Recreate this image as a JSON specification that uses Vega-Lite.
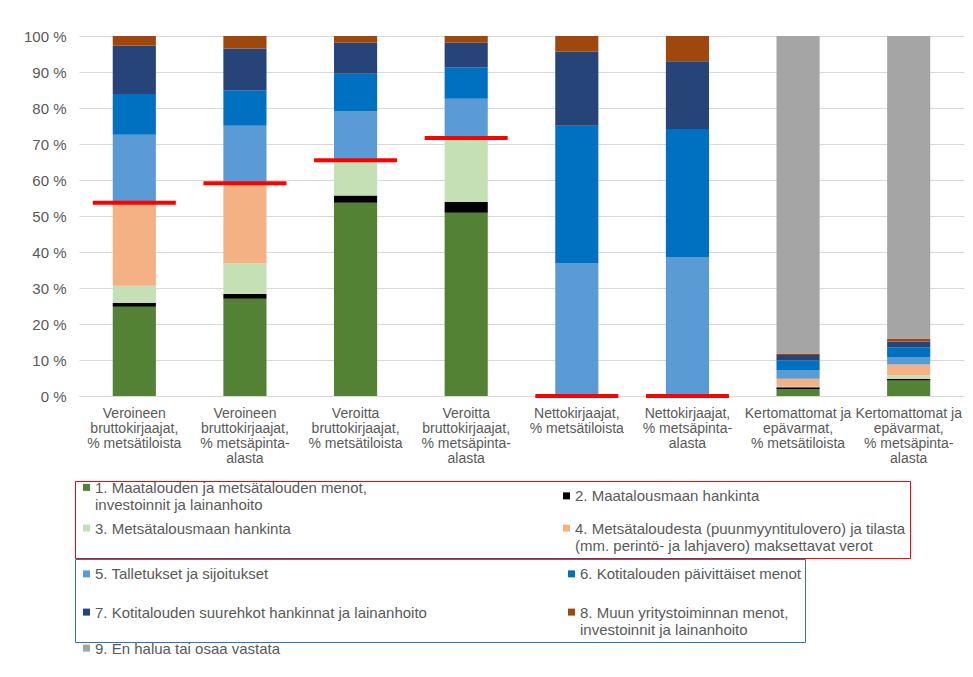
{
  "$schema": "https://vega.github.io/schema/vega-lite/v6.json",
  "width": 885,
  "height": 360,
  "autosize": {"type": "none"},
  "padding": {"left": 79, "top": 36, "right": 9, "bottom": 281},
  "background": "#ffffff",
  "config": {
    "font": "Liberation Sans",
    "view": {"stroke": null}
  },
  "datasets": {
    "bars": [
      {"cat": "Veroineen|bruttokirjaajat,|% metsätiloista", "n": 1, "series": "1. Maatalouden ja metsätalouden menot,|investoinnit ja lainanhoito", "v": 24.8},
      {"cat": "Veroineen|bruttokirjaajat,|% metsätiloista", "n": 2, "series": "2. Maatalousmaan hankinta", "v": 1.0},
      {"cat": "Veroineen|bruttokirjaajat,|% metsätiloista", "n": 3, "series": "3. Metsätalousmaan hankinta", "v": 4.8},
      {"cat": "Veroineen|bruttokirjaajat,|% metsätiloista", "n": 4, "series": "4. Metsätaloudesta (puunmyyntitulovero) ja tilasta|(mm. perintö- ja lahjavero) maksettavat verot", "v": 23.2},
      {"cat": "Veroineen|bruttokirjaajat,|% metsätiloista", "n": 5, "series": "5. Talletukset ja sijoitukset", "v": 18.8},
      {"cat": "Veroineen|bruttokirjaajat,|% metsätiloista", "n": 6, "series": "6. Kotitalouden päivittäiset menot", "v": 11.3},
      {"cat": "Veroineen|bruttokirjaajat,|% metsätiloista", "n": 7, "series": "7. Kotitalouden suurehkot hankinnat ja lainanhoito", "v": 13.4},
      {"cat": "Veroineen|bruttokirjaajat,|% metsätiloista", "n": 8, "series": "8. Muun yritystoiminnan menot,|investoinnit ja lainanhoito", "v": 2.7},

      {"cat": "Veroineen|bruttokirjaajat,|% metsäpinta-|alasta", "n": 1, "series": "1. Maatalouden ja metsätalouden menot,|investoinnit ja lainanhoito", "v": 27.0},
      {"cat": "Veroineen|bruttokirjaajat,|% metsäpinta-|alasta", "n": 2, "series": "2. Maatalousmaan hankinta", "v": 1.3},
      {"cat": "Veroineen|bruttokirjaajat,|% metsäpinta-|alasta", "n": 3, "series": "3. Metsätalousmaan hankinta", "v": 8.6},
      {"cat": "Veroineen|bruttokirjaajat,|% metsäpinta-|alasta", "n": 4, "series": "4. Metsätaloudesta (puunmyyntitulovero) ja tilasta|(mm. perintö- ja lahjavero) maksettavat verot", "v": 22.4},
      {"cat": "Veroineen|bruttokirjaajat,|% metsäpinta-|alasta", "n": 5, "series": "5. Talletukset ja sijoitukset", "v": 15.8},
      {"cat": "Veroineen|bruttokirjaajat,|% metsäpinta-|alasta", "n": 6, "series": "6. Kotitalouden päivittäiset menot", "v": 9.8},
      {"cat": "Veroineen|bruttokirjaajat,|% metsäpinta-|alasta", "n": 7, "series": "7. Kotitalouden suurehkot hankinnat ja lainanhoito", "v": 11.6},
      {"cat": "Veroineen|bruttokirjaajat,|% metsäpinta-|alasta", "n": 8, "series": "8. Muun yritystoiminnan menot,|investoinnit ja lainanhoito", "v": 3.5},

      {"cat": "Veroitta|bruttokirjaajat,|% metsätiloista", "n": 1, "series": "1. Maatalouden ja metsätalouden menot,|investoinnit ja lainanhoito", "v": 53.7},
      {"cat": "Veroitta|bruttokirjaajat,|% metsätiloista", "n": 2, "series": "2. Maatalousmaan hankinta", "v": 2.0},
      {"cat": "Veroitta|bruttokirjaajat,|% metsätiloista", "n": 3, "series": "3. Metsätalousmaan hankinta", "v": 9.9},
      {"cat": "Veroitta|bruttokirjaajat,|% metsätiloista", "n": 5, "series": "5. Talletukset ja sijoitukset", "v": 13.4},
      {"cat": "Veroitta|bruttokirjaajat,|% metsätiloista", "n": 6, "series": "6. Kotitalouden päivittäiset menot", "v": 10.5},
      {"cat": "Veroitta|bruttokirjaajat,|% metsätiloista", "n": 7, "series": "7. Kotitalouden suurehkot hankinnat ja lainanhoito", "v": 8.6},
      {"cat": "Veroitta|bruttokirjaajat,|% metsätiloista", "n": 8, "series": "8. Muun yritystoiminnan menot,|investoinnit ja lainanhoito", "v": 1.9},

      {"cat": "Veroitta|bruttokirjaajat,|% metsäpinta-|alasta", "n": 1, "series": "1. Maatalouden ja metsätalouden menot,|investoinnit ja lainanhoito", "v": 50.9},
      {"cat": "Veroitta|bruttokirjaajat,|% metsäpinta-|alasta", "n": 2, "series": "2. Maatalousmaan hankinta", "v": 3.0},
      {"cat": "Veroitta|bruttokirjaajat,|% metsäpinta-|alasta", "n": 3, "series": "3. Metsätalousmaan hankinta", "v": 17.7},
      {"cat": "Veroitta|bruttokirjaajat,|% metsäpinta-|alasta", "n": 5, "series": "5. Talletukset ja sijoitukset", "v": 11.0},
      {"cat": "Veroitta|bruttokirjaajat,|% metsäpinta-|alasta", "n": 6, "series": "6. Kotitalouden päivittäiset menot", "v": 8.7},
      {"cat": "Veroitta|bruttokirjaajat,|% metsäpinta-|alasta", "n": 7, "series": "7. Kotitalouden suurehkot hankinnat ja lainanhoito", "v": 6.8},
      {"cat": "Veroitta|bruttokirjaajat,|% metsäpinta-|alasta", "n": 8, "series": "8. Muun yritystoiminnan menot,|investoinnit ja lainanhoito", "v": 1.9},

      {"cat": "Nettokirjaajat,|% metsätiloista", "n": 5, "series": "5. Talletukset ja sijoitukset", "v": 36.8},
      {"cat": "Nettokirjaajat,|% metsätiloista", "n": 6, "series": "6. Kotitalouden päivittäiset menot", "v": 38.3},
      {"cat": "Nettokirjaajat,|% metsätiloista", "n": 7, "series": "7. Kotitalouden suurehkot hankinnat ja lainanhoito", "v": 20.5},
      {"cat": "Nettokirjaajat,|% metsätiloista", "n": 8, "series": "8. Muun yritystoiminnan menot,|investoinnit ja lainanhoito", "v": 4.4},

      {"cat": "Nettokirjaajat,|% metsäpinta-|alasta", "n": 5, "series": "5. Talletukset ja sijoitukset", "v": 38.6},
      {"cat": "Nettokirjaajat,|% metsäpinta-|alasta", "n": 6, "series": "6. Kotitalouden päivittäiset menot", "v": 35.6},
      {"cat": "Nettokirjaajat,|% metsäpinta-|alasta", "n": 7, "series": "7. Kotitalouden suurehkot hankinnat ja lainanhoito", "v": 18.8},
      {"cat": "Nettokirjaajat,|% metsäpinta-|alasta", "n": 8, "series": "8. Muun yritystoiminnan menot,|investoinnit ja lainanhoito", "v": 7.0},

      {"cat": "Kertomattomat ja|epävarmat,|% metsätiloista", "n": 1, "series": "1. Maatalouden ja metsätalouden menot,|investoinnit ja lainanhoito", "v": 1.9},
      {"cat": "Kertomattomat ja|epävarmat,|% metsätiloista", "n": 2, "series": "2. Maatalousmaan hankinta", "v": 0.55},
      {"cat": "Kertomattomat ja|epävarmat,|% metsätiloista", "n": 3, "series": "3. Metsätalousmaan hankinta", "v": 0.15},
      {"cat": "Kertomattomat ja|epävarmat,|% metsätiloista", "n": 4, "series": "4. Metsätaloudesta (puunmyyntitulovero) ja tilasta|(mm. perintö- ja lahjavero) maksettavat verot", "v": 2.2},
      {"cat": "Kertomattomat ja|epävarmat,|% metsätiloista", "n": 5, "series": "5. Talletukset ja sijoitukset", "v": 2.3},
      {"cat": "Kertomattomat ja|epävarmat,|% metsätiloista", "n": 6, "series": "6. Kotitalouden päivittäiset menot", "v": 2.8},
      {"cat": "Kertomattomat ja|epävarmat,|% metsätiloista", "n": 7, "series": "7. Kotitalouden suurehkot hankinnat ja lainanhoito", "v": 1.5},
      {"cat": "Kertomattomat ja|epävarmat,|% metsätiloista", "n": 8, "series": "8. Muun yritystoiminnan menot,|investoinnit ja lainanhoito", "v": 0.4},
      {"cat": "Kertomattomat ja|epävarmat,|% metsätiloista", "n": 9, "series": "9. En halua tai osaa vastata", "v": 88.2},

      {"cat": "Kertomattomat ja|epävarmat,|% metsäpinta-|alasta", "n": 1, "series": "1. Maatalouden ja metsätalouden menot,|investoinnit ja lainanhoito", "v": 4.3},
      {"cat": "Kertomattomat ja|epävarmat,|% metsäpinta-|alasta", "n": 2, "series": "2. Maatalousmaan hankinta", "v": 0.45},
      {"cat": "Kertomattomat ja|epävarmat,|% metsäpinta-|alasta", "n": 3, "series": "3. Metsätalousmaan hankinta", "v": 1.0},
      {"cat": "Kertomattomat ja|epävarmat,|% metsäpinta-|alasta", "n": 4, "series": "4. Metsätaloudesta (puunmyyntitulovero) ja tilasta|(mm. perintö- ja lahjavero) maksettavat verot", "v": 3.0},
      {"cat": "Kertomattomat ja|epävarmat,|% metsäpinta-|alasta", "n": 5, "series": "5. Talletukset ja sijoitukset", "v": 2.1},
      {"cat": "Kertomattomat ja|epävarmat,|% metsäpinta-|alasta", "n": 6, "series": "6. Kotitalouden päivittäiset menot", "v": 2.7},
      {"cat": "Kertomattomat ja|epävarmat,|% metsäpinta-|alasta", "n": 7, "series": "7. Kotitalouden suurehkot hankinnat ja lainanhoito", "v": 1.6},
      {"cat": "Kertomattomat ja|epävarmat,|% metsäpinta-|alasta", "n": 8, "series": "8. Muun yritystoiminnan menot,|investoinnit ja lainanhoito", "v": 0.7},
      {"cat": "Kertomattomat ja|epävarmat,|% metsäpinta-|alasta", "n": 9, "series": "9. En halua tai osaa vastata", "v": 84.15}
    ],
    "lines": [
      {"cat": "Veroineen|bruttokirjaajat,|% metsätiloista", "line": 53.7},
      {"cat": "Veroineen|bruttokirjaajat,|% metsäpinta-|alasta", "line": 59.1},
      {"cat": "Veroitta|bruttokirjaajat,|% metsätiloista", "line": 65.5},
      {"cat": "Veroitta|bruttokirjaajat,|% metsäpinta-|alasta", "line": 71.7},
      {"cat": "Nettokirjaajat,|% metsätiloista", "line": 0},
      {"cat": "Nettokirjaajat,|% metsäpinta-|alasta", "line": 0}
    ]
  },
  "encoding": {
    "x": {
      "field": "cat",
      "type": "nominal",
      "scale": {
        "domain": [
          "Veroineen|bruttokirjaajat,|% metsätiloista",
          "Veroineen|bruttokirjaajat,|% metsäpinta-|alasta",
          "Veroitta|bruttokirjaajat,|% metsätiloista",
          "Veroitta|bruttokirjaajat,|% metsäpinta-|alasta",
          "Nettokirjaajat,|% metsätiloista",
          "Nettokirjaajat,|% metsäpinta-|alasta",
          "Kertomattomat ja|epävarmat,|% metsätiloista",
          "Kertomattomat ja|epävarmat,|% metsäpinta-|alasta"
        ],
        "paddingInner": 0.61,
        "paddingOuter": 0.305
      },
      "axis": {
        "title": null,
        "labelExpr": "split(datum.label, '|')",
        "labelAngle": 0,
        "ticks": false,
        "domain": true,
        "domainColor": "#D9D9D9",
        "grid": false,
        "labelColor": "#595959",
        "labelFontSize": 14,
        "labelLineHeight": 15,
        "labelBaseline": "top",
        "labelPadding": 10,
        "labelLimit": 300
      }
    }
  },
  "layer": [
    {
      "data": {"name": "bars"},
      "transform": [
        {"stack": "v", "groupby": ["cat"], "sort": [{"field": "n", "order": "ascending"}], "as": ["y0", "y1"]},
        {"filter": "datum.n <= 4"}
      ],
      "mark": {"type": "bar"},
      "encoding": {
        "y": {
          "field": "y0", "type": "quantitative",
          "scale": {"domain": [0, 100]},
          "axis": {"title": null, "values": [0,10,20,30,40,50,60,70,80,90,100], "labelExpr": "datum.value + ' %'", "ticks": false, "domain": false, "grid": true, "gridColor": "#D9D9D9", "labelColor": "#595959", "labelFontSize": 15, "labelPadding": 13}
        },
        "y2": {"field": "y1"},
        "color": {
          "field": "series", "type": "nominal",
          "scale": {
            "domain": ["1. Maatalouden ja metsätalouden menot,|investoinnit ja lainanhoito", "2. Maatalousmaan hankinta", "3. Metsätalousmaan hankinta", "4. Metsätaloudesta (puunmyyntitulovero) ja tilasta|(mm. perintö- ja lahjavero) maksettavat verot"],
            "range": ["#548235", "#000000", "#C5E0B4", "#F4B183"]
          },
          "legend": {
            "orient": "none", "legendX": -4, "legendY": 445, "direction": "horizontal",
            "title": null, "columns": 2, "gridAlign": "all", "columnPadding": 133, "rowPadding": 8,
            "padding": 4, "strokeColor": "#FF0000",
            "symbolType": "M-1,-2.54H1V-0.54H-1Z", "symbolSize": 49, "symbolStrokeWidth": 0, "symbolOpacity": 1,
            "labelFontSize": 15, "labelColor": "#595959", "labelBaseline": "alphabetic", "labelOffset": 1, "labelLimit": 600,
            "labelExpr": "split(datum.label, '|')"
          }
        }
      }
    },
    {
      "data": {"name": "bars"},
      "transform": [
        {"stack": "v", "groupby": ["cat"], "sort": [{"field": "n", "order": "ascending"}], "as": ["y0", "y1"]},
        {"filter": "datum.n >= 5 && datum.n <= 8"}
      ],
      "mark": {"type": "bar"},
      "encoding": {
        "y": {
          "field": "y0", "type": "quantitative",
          "scale": {"domain": [0, 100]},
          "axis": {"title": null, "values": [0,10,20,30,40,50,60,70,80,90,100], "labelExpr": "datum.value + ' %'", "ticks": false, "domain": false, "grid": true, "gridColor": "#D9D9D9", "labelColor": "#595959", "labelFontSize": 15, "labelPadding": 13}
        },
        "y2": {"field": "y1"},
        "color": {
          "field": "series", "type": "nominal",
          "scale": {
            "domain": ["5. Talletukset ja sijoitukset", "6. Kotitalouden päivittäiset menot", "7. Kotitalouden suurehkot hankinnat ja lainanhoito", "8. Muun yritystoiminnan menot,|investoinnit ja lainanhoito"],
            "range": ["#5B9BD5", "#0070C0", "#264478", "#9E480E"]
          },
          "legend": {
            "orient": "none", "legendX": -4, "legendY": 523, "direction": "horizontal",
            "title": null, "columns": 2, "gridAlign": "all", "columnPadding": 137, "rowPadding": 14,
            "padding": 4, "strokeColor": "#2E75B6",
            "symbolType": "M-1,-2.54H1V-0.54H-1Z", "symbolSize": 49, "symbolStrokeWidth": 0, "symbolOpacity": 1,
            "labelFontSize": 15, "labelColor": "#595959", "labelBaseline": "alphabetic", "labelOffset": 1, "labelLimit": 600,
            "labelExpr": "split(datum.label, '|')"
          }
        }
      }
    },
    {
      "data": {"name": "bars"},
      "transform": [
        {"stack": "v", "groupby": ["cat"], "sort": [{"field": "n", "order": "ascending"}], "as": ["y0", "y1"]},
        {"filter": "datum.n == 9"}
      ],
      "mark": {"type": "bar"},
      "encoding": {
        "y": {
          "field": "y0", "type": "quantitative",
          "scale": {"domain": [0, 100]},
          "axis": {"title": null, "values": [0,10,20,30,40,50,60,70,80,90,100], "labelExpr": "datum.value + ' %'", "ticks": false, "domain": false, "grid": true, "gridColor": "#D9D9D9", "labelColor": "#595959", "labelFontSize": 15, "labelPadding": 13}
        },
        "y2": {"field": "y1"},
        "color": {
          "field": "series", "type": "nominal",
          "scale": {"domain": ["9. En halua tai osaa vastata"], "range": ["#A5A5A5"]},
          "legend": {
            "orient": "none", "legendX": 0, "legendY": 610,
            "title": null, "padding": 0,
            "symbolType": "M-1,-2.54H1V-0.54H-1Z", "symbolSize": 49, "symbolStrokeWidth": 0, "symbolOpacity": 1,
            "labelFontSize": 15, "labelColor": "#595959", "labelBaseline": "alphabetic", "labelOffset": 1, "labelLimit": 600
          }
        }
      }
    },
    {
      "data": {"name": "lines"},
      "mark": {"type": "tick", "color": "#FF0000", "thickness": 4, "size": 83, "opacity": 1},
      "encoding": {
        "y": {
          "field": "line", "type": "quantitative",
          "scale": {"domain": [0, 100]},
          "axis": {"title": null, "values": [0,10,20,30,40,50,60,70,80,90,100], "labelExpr": "datum.value + ' %'", "ticks": false, "domain": false, "grid": true, "gridColor": "#D9D9D9", "labelColor": "#595959", "labelFontSize": 15, "labelPadding": 13}
        }
      }
    }
  ],
  "resolve": {"scale": {"color": "independent"}, "legend": {"color": "independent"}}
}
